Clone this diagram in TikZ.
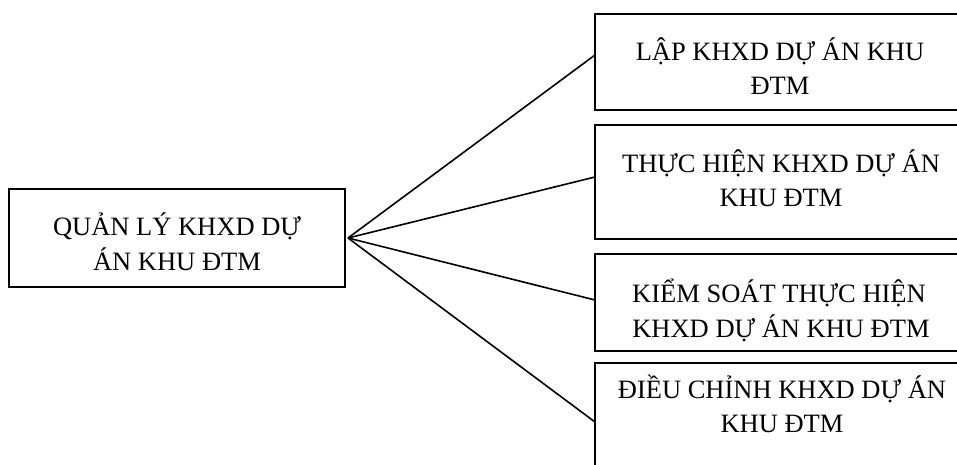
\documentclass[tikz,border=0pt]{standalone}
\usepackage{fontspec}
\setmainfont{Liberation Serif}
\usetikzlibrary{calc}
\tikzset{
  box/.style={draw=black, line width=1.8pt, rectangle, inner sep=0pt, outer sep=0pt, anchor=north west},
  txt/.style={anchor=base, inner sep=0pt, font=\fontsize{26.5}{34.5}\selectfont},
  link/.style={draw=black, line width=1.6pt},
}
\begin{document}
\begin{tikzpicture}[x=1pt, y=-1pt]
  \useasboundingbox (0,0) rectangle (957,465);
  \clip (0,0) rectangle (957,465);
  \fill[white] (0,0) rectangle (957,465);

  % main box
  \node[box, minimum width=336pt, minimum height=98pt] (main) at (9,189) {};
  \node[txt] (m1) at (177,235) {QUẢN LÝ KHXD DỰ};
  \node[txt] (m2) at (177,270) {ÁN KHU ĐTM};

  % right-hand boxes
  \node[box, minimum width=371pt, minimum height=96pt]  (b1) at (595,14) {};
  \node[box, minimum width=371pt, minimum height=114pt] (b2) at (595,125) {};
  \node[box, minimum width=371pt, minimum height=97pt]  (b3) at (595,254) {};
  \node[box, minimum width=371pt, minimum height=130pt] (b4) at (595,363) {};

  \node[txt] (t1a) at (780,61)  {LẬP KHXD DỰ ÁN KHU};
  \node[txt] (t1b) at (780,95)  {ĐTM};
  \node[txt] (t2a) at (781,172) {THỰC HIỆN KHXD DỰ ÁN};
  \node[txt] (t2b) at (781,206) {KHU ĐTM};
  \node[txt] (t3a) at (779,302) {KIỂM SOÁT THỰC HIỆN};
  \node[txt] (t3b) at (781,337) {KHXD DỰ ÁN KHU ĐTM};
  \node[txt] (t4a) at (782,398) {ĐIỀU CHỈNH KHXD DỰ ÁN};
  \node[txt] (t4b) at (782,432) {KHU ĐTM};

  % fan of connectors
  \coordinate (hub) at ($(main.east)+(3,0)$);
  \draw[link] (hub) -- ($(b1.north west)+(0,41)$);
  \draw[link] (hub) -- ($(b2.north west)+(0,52)$);
  \draw[link] (hub) -- ($(b3.north west)+(0,46)$);
  \draw[link] (hub) -- ($(b4.north west)+(0,59)$);
\end{tikzpicture}
\end{document}
